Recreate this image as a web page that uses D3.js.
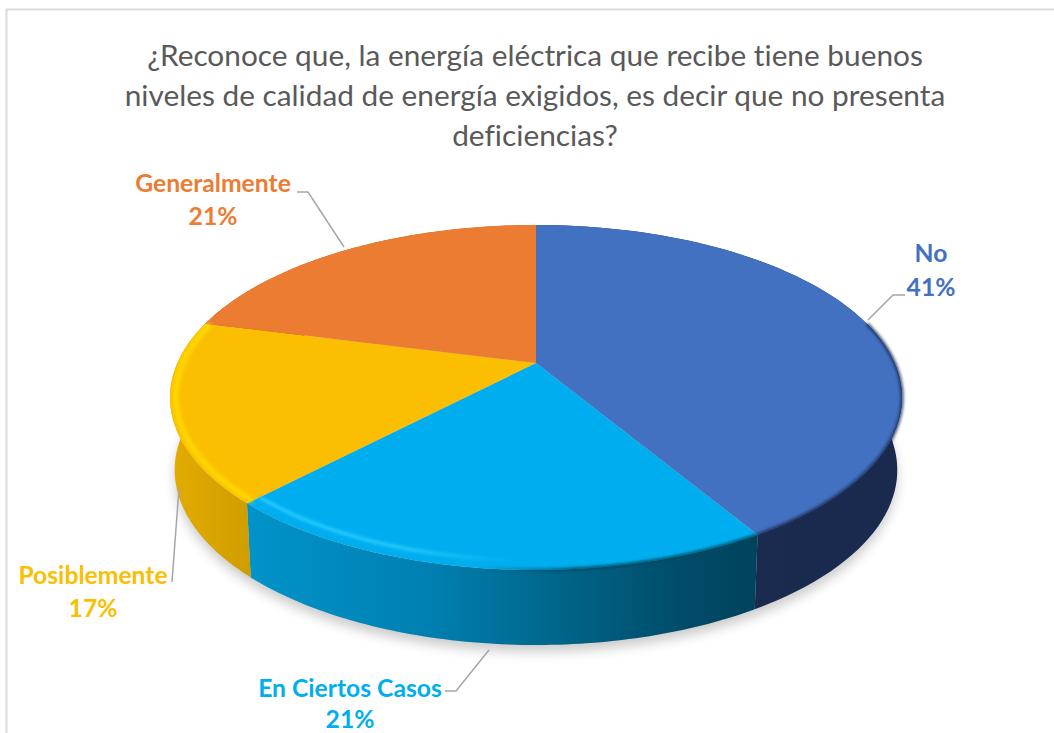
<!DOCTYPE html>
<html><head><meta charset="utf-8">
<script src="https://cdn.jsdelivr.net/npm/d3@7"></script>
<style>html,body{margin:0;padding:0;background:#fff}svg{display:block}text{font-variant-ligatures:none}</style>
</head><body><svg id="c" width="1054" height="733"></svg>
<script>
const categories = ["No","En Ciertos Casos","Posiblemente","Generalmente"];
const values = [41.45,20.65,16.9,21];
const colors = ["#4271C2","#00AEEF","#FBBE00","#EB7C32"];
const titleLines = ["¿Reconoce que, la energía eléctrica que recibe tiene buenos","niveles de calidad de energía exigidos, es decir que no presenta","deficiencias?"];
// layout
const labelPos = [[931,262,296],[350,697,728],[93,584,617],[213,192,225]];
const leaders = [
 [[868,320],[893,295],[905,295]],
 [[445,691],[456,691],[489,650]],
 [[172,582],[179,488]],
 [[297,192],[308,192],[344,247]]
];
const svg = d3.select("#c");
const pct = d3.format(".0%");
const total = d3.sum(values);
const arcs = d3.pie().sort(null).value(d=>d)(values);
const a1=arcs[0].endAngle,a2=arcs[1].endAngle,a3=arcs[2].endAngle;

// perspective view of the disc: back edge, apex and front edge of each face
const view=(cx,k,a,b,c)=>(t,r=1)=>{const u=r*Math.sin(t),v=r*Math.cos(t),w=1+c*v;return [cx+k*u/w,(a+b*v)/w];};
const topV=view(536,358.6,363,-93,0.2);
const botV=view(536,354,435,-81,0.2);
const samples=(a,b)=>d3.range(0,81).map(i=>a+(b-a)*i/80);
const line=d3.line();

const defs=svg.append("defs");
const blur=(id,s)=>defs.append("filter").attr("id",id).attr("x","-20%").attr("y","-20%").attr("width","140%").attr("height","140%")
  .append("feGaussianBlur").attr("stdDeviation",s);
blur("sh",6);blur("b1",1.4);blur("b2",2.2);
const grad=(id,stops)=>{const g=defs.append("linearGradient").attr("id",id).attr("gradientUnits","userSpaceOnUse")
  .attr("x1",170).attr("x2",902).attr("y1",0).attr("y2",0);
  stops.forEach(([o,c,op])=>g.append("stop").attr("offset",o).attr("stop-color",c).attr("stop-opacity",op==null?1:op));};
grad("w0",[[0,"#1a2d54"],[1,"#1a2a4e"]]);
grad("w1",[[0.11,"#0093c9"],[0.35,"#0080b2"],[0.5,"#006a90"],[0.7,"#004c69"],[0.8,"#00435c"]]);
grad("w2",[[0,"#e3ac00"],[0.11,"#d09d00"]]);
grad("w3",[[0,"#b85f20"],[1,"#b85f20"]]);
grad("hl1",[[0.11,"#29cbff"],[0.33,"#29cbff",0.9],[0.47,"#29cbff",0]]);
grad("dk1",[[0.42,"#00465f",0],[0.56,"#00465f",1]]);
grad("dk0",[[0.78,"#1a2d54",1],[0.99,"#1a2d54",0.9]]);

// frame
svg.append("path").attr("d",line([[6.5,733],[6.5,9.5],[1054,9.5]])).attr("fill","none").attr("stroke","#dcdcdc").attr("stroke-width",2);

// shadow
svg.append("path").attr("d",line(samples(0,2*Math.PI).map(t=>botV(t)))+"Z")
  .attr("transform","translate(0,7)").attr("fill","#000").attr("opacity",0.2).attr("filter","url(#sh)");

// walls
svg.selectAll("path.wall").data(arcs).join("path").attr("class","wall")
  .attr("d",d=>{const s=samples(d.startAngle,d.endAngle);
    return line([...s.map(t=>topV(t)),...s.slice().reverse().map(t=>botV(t))])+"Z";})
  .attr("fill",(d,i)=>`url(#w${i})`);

// top faces
svg.selectAll("path.top").data(arcs).join("path").attr("class","top")
  .attr("d",d=>line([topV(0,0),...samples(d.startAngle,d.endAngle).map(t=>topV(t))])+"Z")
  .attr("fill",(d,i)=>colors[i]);

// bevel
defs.append("clipPath").attr("id","topclip").append("path")
  .attr("d",line(samples(0,2*Math.PI).map(t=>topV(t)))+"Z");
const bevel=svg.append("g");
bevel.append("path").attr("d",line(samples(Math.PI*0.42,a1).map(t=>topV(t))))
  .attr("fill","none").attr("stroke","url(#dk0)").attr("stroke-width",3).attr("filter","url(#b1)");
bevel.append("path").attr("d",line(samples(a1,Math.PI*1.05).map(t=>topV(t))))
  .attr("fill","none").attr("stroke","url(#dk1)").attr("stroke-width",3).attr("filter","url(#b1)");
const inner=bevel.append("g").attr("clip-path","url(#topclip)");
inner.append("path").attr("d",line(samples(a2,a1+0.2).map(t=>topV(t,0.962))))
  .attr("fill","none").attr("stroke","url(#hl1)").attr("stroke-width",3.5).attr("filter","url(#b1)");
inner.append("path").attr("d",line(samples(a2,a3).map(t=>topV(t,0.985))))
  .attr("fill","none").attr("stroke","#FFDD00").attr("stroke-width",5).attr("filter","url(#b2)");

// leaders
svg.selectAll("path.leader").data(leaders).join("path").attr("class","leader")
  .attr("d",d=>line(d)).attr("fill","none").attr("stroke","#a6a6a6").attr("stroke-width",1.5);

// title
svg.selectAll("text.title").data(titleLines).join("text").attr("class","title")
  .attr("x",535).attr("y",(d,i)=>66+i*40).attr("text-anchor","middle")
  .attr("font-family","Lato, 'Open Sans', sans-serif").attr("font-size",29.8).attr("fill","#595959").text(d=>d);

// labels
categories.forEach((c,i)=>{
  const [x,y1,y2]=labelPos[i];
  const g=svg.append("g").attr("font-family","Lato, 'Open Sans', sans-serif").attr("font-weight",700)
    .attr("font-size",24.7).attr("fill",colors[i]).attr("text-anchor","middle");
  g.append("text").attr("x",x).attr("y",y1).text(c);
  g.append("text").attr("x",x).attr("y",y2).text(pct(values[i]/total));
});
</script></body></html>
